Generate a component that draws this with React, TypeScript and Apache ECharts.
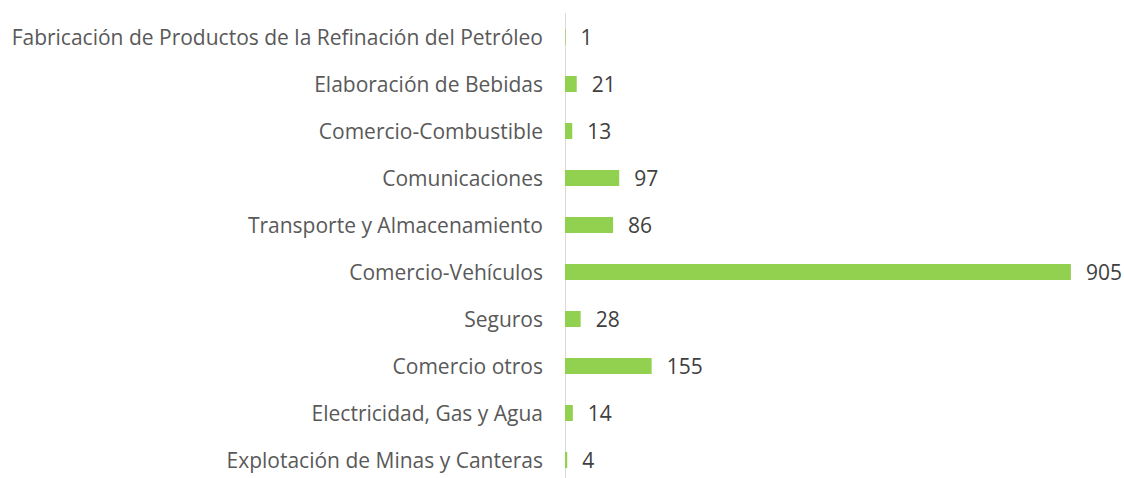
import React, { useEffect, useRef } from "react";
import * as echarts from "echarts";

const categories = [
  "Fabricación de Productos de la Refinación del Petróleo",
  "Elaboración de Bebidas",
  "Comercio-Combustible",
  "Comunicaciones",
  "Transporte y Almacenamiento",
  "Comercio-Vehículos",
  "Seguros",
  "Comercio otros",
  "Electricidad, Gas y Agua",
  "Explotación de Minas y Canteras",
];
const values = [1, 21, 13, 97, 86, 905, 28, 155, 14, 4];

export default function App() {
  const ref = useRef<HTMLDivElement>(null);
  useEffect(() => {
    if (!ref.current) return;
    const chart = echarts.init(ref.current, null, { renderer: "svg" });
    chart.setOption({
      animation: false,
      grid: { left: 565, right: 0, top: 13.5, bottom: 0.5, containLabel: false },
      xAxis: {
        type: "value",
        min: 0,
        max: 1000,
        show: false,
      },
      yAxis: {
        type: "category",
        inverse: true,
        data: categories,
        axisLine: { show: true, lineStyle: { color: "#d9d9d9", width: 1 } },
        axisTick: { show: false },
        axisLabel: {
          margin: 22,
          color: "#595959",
          fontSize: 21,
          fontFamily: "Open Sans",
        },
      },
      series: [
        {
          type: "bar",
          data: values,
          barWidth: 16,
          itemStyle: { color: "#92D050" },
          label: {
            show: true,
            position: "right",
            distance: 15,
            color: "#404040",
            fontSize: 21,
            fontFamily: "Open Sans",
          },
        },
      ],
    });
    return () => chart.dispose();
  }, []);
  return (
    <div style={{ position: "fixed", left: 0, top: 0, width: 1124, height: 478, overflow: "hidden", background: "#fff" }}>
      <div ref={ref} style={{ width: 1124, height: 484 }} />
    </div>
  );
}
